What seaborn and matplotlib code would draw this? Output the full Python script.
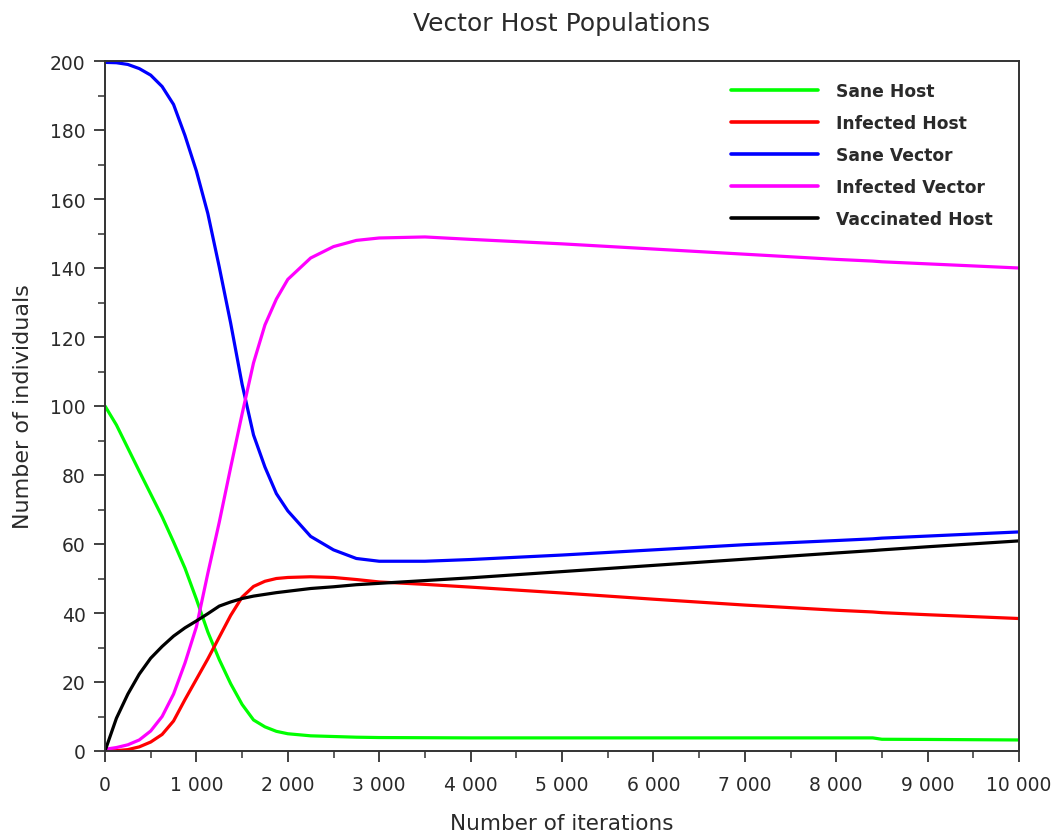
import matplotlib
matplotlib.use("Agg")
import matplotlib.pyplot as plt
from matplotlib.ticker import MultipleLocator, FuncFormatter
import seaborn as sns
import pandas as pd

# Simulation output sampled at selected iteration counts
iterations = [0, 125, 250, 375, 500, 625, 750, 875, 1000, 1125, 1250, 1375, 1500,
              1625, 1750, 1875, 2000, 2250, 2500, 2750, 3000, 3500, 4000, 5000,
              6000, 7000, 8000, 8400, 8500, 9000, 10000]

sane_host = [100, 94.5, 87.8, 81.1, 74.5, 67.9, 60.6, 53, 44, 34.5, 26.5, 19.5, 13.5,
             9, 7, 5.7, 5, 4.4, 4.2, 4.0, 3.9, 3.85, 3.8, 3.8,
             3.8, 3.8, 3.8, 3.8, 3.4, 3.35, 3.2]

infected_host = [0, 0.1, 0.4, 1.2, 2.6, 4.8, 8.7, 14.9, 20.8, 26.7, 33, 39.3, 44.6,
                 47.7, 49.2, 50, 50.3, 50.5, 50.3, 49.7, 49, 48.3, 47.5, 45.8,
                 44, 42.3, 40.8, 40.3, 40.1, 39.5, 38.4]

sane_vector = [199.6, 199.5, 199, 197.8, 195.9, 192.6, 187.4, 178.4, 168.1, 155.8, 140.3,
               124, 106.3, 91.6, 82.3, 74.6, 69.6, 62.2, 58.3, 55.8, 55, 55, 55.5,
               56.8, 58.3, 59.8, 61, 61.5, 61.7, 62.3, 63.5]

infected_vector = [0.5, 1.0, 1.8, 3.2, 5.8, 10, 16.5, 25.5, 36, 51.5, 66.3, 82.2, 97.7,
                   112.5, 123.5, 131, 136.7, 142.9, 146.2, 148, 148.7, 149, 148.3,
                   147, 145.5, 144, 142.5, 142, 141.8, 141.2, 140]

vaccinated_host = [0, 9.5, 16.5, 22.3, 26.9, 30.3, 33.3, 35.7, 37.7, 39.8, 42, 43.2, 44.2,
                   44.9, 45.4, 45.9, 46.3, 47.1, 47.6, 48.2, 48.6, 49.4, 50.2, 52,
                   53.8, 55.6, 57.4, 58.1, 58.3, 59.2, 60.9]

series_names = ["Sane Host", "Infected Host", "Sane Vector", "Infected Vector", "Vaccinated Host"]
series_colors = ["#00ff00", "#ff0000", "#0000ff", "#ff00ff", "#000000"]
series_values = [sane_host, infected_host, sane_vector, infected_vector, vaccinated_host]

frames = [pd.DataFrame({"iteration": iterations, "individuals": vals, "population": name})
          for name, vals in zip(series_names, series_values)]
data = pd.concat(frames, ignore_index=True)

sns.set_theme(style="white")
plt.rcParams["font.family"] = ["DejaVu Sans"]

fig = plt.figure(figsize=(10.54, 8.37), dpi=100)
ax = fig.add_axes([105 / 1054, 1 - 752 / 837, 914 / 1054, 690 / 837])

sns.lineplot(data=data, x="iteration", y="individuals", hue="population",
             hue_order=series_names, palette=dict(zip(series_names, series_colors)),
             linewidth=2.3, ax=ax, legend=True)

ax.set_xlim(0, 10000)
ax.set_ylim(0, 200)

edge = "#333333"
text_color = "#2a2a2a"
for side in ["left", "bottom", "top", "right"]:
    ax.spines[side].set_visible(True)
    ax.spines[side].set_color(edge)
    ax.spines[side].set_linewidth(1.4)

ax.xaxis.set_major_locator(MultipleLocator(1000))
ax.xaxis.set_minor_locator(MultipleLocator(500))
ax.yaxis.set_major_locator(MultipleLocator(20))
ax.yaxis.set_minor_locator(MultipleLocator(10))
ax.xaxis.set_major_formatter(FuncFormatter(
    lambda v, p: f"{int(v):,}".replace(",", " ")))
ax.tick_params(axis="both", which="major", direction="out", length=8, width=1.3,
               color=edge, labelsize=13.5, labelcolor=text_color,
               bottom=True, left=True, top=False, right=False)
ax.tick_params(axis="x", which="major", pad=9)
ax.tick_params(axis="y", which="major", pad=6)
ax.tick_params(axis="both", which="minor", direction="out", length=5, width=1.1,
               color=edge, bottom=True, left=True, top=False, right=False)

ax.set_title("Vector Host Populations", fontsize=18, color=text_color, pad=22)
ax.set_xlabel("Number of iterations", fontsize=15.5, color=text_color, labelpad=14)
ax.set_ylabel("Number of individuals", fontsize=16, color=text_color, labelpad=12)

leg = ax.legend(loc="upper left", bbox_to_anchor=(0.685, 0.97), frameon=False,
                handlelength=5.1, handletextpad=1.05, labelspacing=0.82,
                borderaxespad=0, borderpad=0,
                prop={"family": "DejaVu Sans", "weight": "bold", "size": 12.3})
for line in leg.get_lines():
    line.set_linewidth(2.6)
for text in leg.get_texts():
    text.set_color(text_color)

fig.savefig("out.png", dpi=100, facecolor="white")
